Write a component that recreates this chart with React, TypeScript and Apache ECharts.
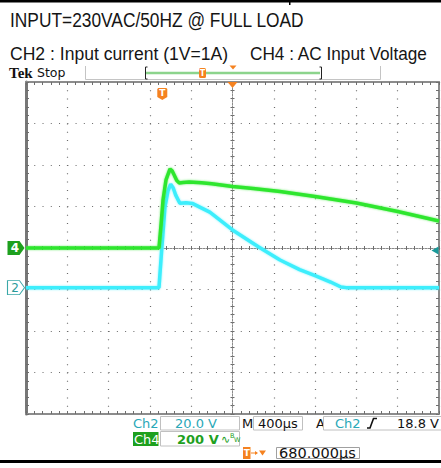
import React, { useEffect, useRef } from "react";
import * as echarts from "echarts";

// Time relative to the screen centre (µs), 400 µs / division
const ch4TimeUs = [-2000, -712, -692, -673, -644, -605, -585, -565, -540, -515, -480, -420, -300, -200, 0, 200, 460, 800, 1200, 1600, 2000];
// CH4 : AC input voltage (V), 200 V / division
const ch4Volts = [0, 0, 111, 231, 328, 381, 372, 352, 325, 313, 316, 318, 314, 310, 296, 287, 272, 248, 217, 176, 130];

const ch2TimeUs = [-2000, -712, -686, -654, -625, -599, -574, -550, -510, -450, -390, -220, 0, 250, 460, 650, 800, 950, 1050, 1100, 2000];
// CH2 : input current probe (V), 20 V / division
const ch2Volts = [0.9, 0.9, 19, 39.8, 47.5, 50.8, 48.9, 45.5, 41.6, 41.8, 41.5, 37.3, 28.7, 20.6, 14.2, 9.6, 6.7, 3.6, 1.2, 0.9, 0.9];

const triggerLevelV = 18.8;
const triggerTimeUs = -680;

const titleLine = "INPUT=230VAC/50HZ @ FULL LOAD";
const ch2Caption = "CH2 : Input current (1V=1A)";
const ch4Caption = "CH4 : AC Input Voltage";
const ch2Scale = "20.0 V";
const ch4Scale = "200 V";
const timeScale = "400µs";
const trigLevelText = "18.8 V";
const horizPosText = "680.000µs";

const GREEN = "#2ee62e";
const CYAN = "#3eeefc";
const TEAL = "#2aa8b8";
const DGREEN = "#1ea01e";
const ORANGE = "#f58220";
const MONO = '"DejaVu Sans", sans-serif';

function zip(a: number[], b: number[]) {
  return a.map((v, i) => [v, b[i]]);
}

export default function App() {
  const ref = useRef<HTMLDivElement>(null);
  useEffect(() => {
    if (!ref.current) return;
    const chart = echarts.init(ref.current, undefined, { renderer: "svg" });

    const tick = { show: true, inside: true, length: 3, lineStyle: { color: "#6e6e6e", width: 1 } };
    const minor = { show: true, splitNumber: 5, length: 3, lineStyle: { color: "#6e6e6e", width: 1 } };
    const noLabel = { show: false };

    const xBase = { type: "value", min: -2000, max: 2000, interval: 400, axisLabel: noLabel, minorSplitLine: { show: false } };
    const yCh4 = { type: "value", min: -800, max: 800, interval: 200, axisLabel: noLabel, minorSplitLine: { show: false } };

    const centreLine = { color: "#8a8a8a", width: 1, type: [1.5, 1.5] };

    const option: any = {
      animation: false,
      backgroundColor: "#ffffff",
      grid: { left: 26, top: 82, width: 413, height: 332, show: false },
      xAxis: [
        {
          ...xBase,
          position: "bottom",
          axisLine: { show: true, onZero: false, lineStyle: { color: "#8c8c8c", width: 2 } },
          axisTick: tick,
          minorTick: minor,
          splitLine: { show: true, lineStyle: { color: "#6a6a6a", width: 1.2, type: [1, 7.3] } },
        },
        {
          ...xBase,
          position: "top",
          axisLine: { show: true, onZero: false, lineStyle: { color: "#8c8c8c", width: 2 } },
          axisTick: tick,
          minorTick: minor,
          splitLine: { show: false },
        },
        {
          ...xBase,
          position: "bottom",
          axisLine: { show: true, onZero: true, onZeroAxisIndex: 0, lineStyle: centreLine },
          axisTick: { ...tick, length: 2 },
          minorTick: { ...minor, length: 2 },
          splitLine: { show: false },
        },
        {
          ...xBase,
          position: "bottom",
          axisLine: { show: true, onZero: true, onZeroAxisIndex: 0, lineStyle: centreLine },
          axisTick: { ...tick, inside: false, length: 2 },
          minorTick: { ...minor, length: 2 },
          splitLine: { show: false },
        },
      ],
      yAxis: [
        {
          ...yCh4,
          position: "left",
          axisLine: { show: true, onZero: false, lineStyle: { color: "#777777", width: 3 } },
          axisTick: tick,
          minorTick: minor,
          splitLine: { show: true, lineStyle: { color: "#6a6a6a", width: 1.2, type: [1, 7.26] } },
        },
        {
          type: "value",
          min: -60,
          max: 100,
          interval: 20,
          position: "right",
          axisLabel: noLabel,
          axisLine: { show: true, onZero: false, lineStyle: { color: "#8c8c8c", width: 2 } },
          axisTick: tick,
          minorTick: minor,
          splitLine: { show: false },
          minorSplitLine: { show: false },
        },
        {
          ...yCh4,
          position: "left",
          axisLine: { show: true, onZero: true, onZeroAxisIndex: 0, lineStyle: centreLine },
          axisTick: { ...tick, length: 2 },
          minorTick: { ...minor, length: 2 },
          splitLine: { show: false },
        },
        {
          ...yCh4,
          position: "left",
          axisLine: { show: true, onZero: true, onZeroAxisIndex: 0, lineStyle: centreLine },
          axisTick: { ...tick, inside: false, length: 2 },
          minorTick: { ...minor, length: 2 },
          splitLine: { show: false },
        },
      ],
      series: [
        {
          type: "line",
          name: "CH2",
          xAxisIndex: 0,
          yAxisIndex: 1,
          data: zip(ch2TimeUs, ch2Volts),
          symbol: "none",
          z: 5,
          lineStyle: { color: CYAN, width: 3.5, shadowColor: "rgba(80,240,255,0.7)", shadowBlur: 2 },
          markPoint: {
            silent: true,
            data: [
              {
                coord: [-2000, ch2Volts[0]],
                symbol: "path://M0,0 L12,0 L17,7 L12,14 L0,14 Z",
                symbolSize: [17, 14],
                symbolOffset: [-10, 0],
                itemStyle: { color: "#ffffff", borderColor: "#3aa8a8", borderWidth: 1 },
                label: { show: true, position: "inside", offset: [-1, 0], formatter: "2", color: "#2a9a9a", fontSize: 12, fontFamily: MONO },
              },
              {
                coord: [2000, triggerLevelV],
                symbol: "path://M0,4 L7,0 L7,8 Z",
                symbolSize: [7, 8],
                symbolOffset: [-4, 0],
                itemStyle: { color: "#1a9a9a" },
                label: { show: false },
              },
            ],
          },
        },
        {
          type: "line",
          name: "CH4",
          xAxisIndex: 0,
          yAxisIndex: 0,
          data: zip(ch4TimeUs, ch4Volts),
          symbol: "none",
          z: 6,
          lineStyle: { color: GREEN, width: 3.5, shadowColor: "rgba(60,230,60,0.7)", shadowBlur: 2 },
          markPoint: {
            silent: true,
            data: [
              {
                coord: [-2000, 0],
                symbol: "path://M0,0 L12,0 L17,7 L12,14 L0,14 Z",
                symbolSize: [17, 14],
                symbolOffset: [-10, 0],
                itemStyle: { color: DGREEN },
                label: { show: true, position: "inside", offset: [-1, 0], formatter: "4", color: "#ffffff", fontWeight: "bold", fontSize: 12, fontFamily: MONO },
              },
              {
                coord: [triggerTimeUs, 800],
                symbol: "path://M1,0 L9,0 L10,1 L10,9 L5,12 L0,9 L0,1 Z",
                symbolSize: [10, 12],
                symbolOffset: [0, 12],
                itemStyle: { color: ORANGE },
                label: { show: true, position: "inside", offset: [0, -1], formatter: "T", color: "#ffffff", fontWeight: "bold", fontSize: 9, fontFamily: MONO },
              },
              {
                coord: [0, 800],
                symbol: "triangle",
                symbolRotate: 180,
                symbolSize: [10, 6],
                symbolOffset: [0, 3],
                itemStyle: { color: ORANGE },
                label: { show: false },
              },
            ],
          },
        },
      ],
      graphic: [
        { type: "rect", shape: { x: 0, y: 0, width: 441, height: 2.5 }, style: { fill: "#000" } },
        { type: "rect", shape: { x: 289, y: 0, width: 1.5, height: 5 }, style: { fill: "#000" } },
        {
          type: "text", x: 10, y: 20.5, scaleX: 0.89,
          style: { text: titleLine, font: '19.5px "Liberation Sans", Arial, sans-serif', fill: "#151515", textVerticalAlign: "middle" },
        },
        {
          type: "text", x: 10, y: 53.5, scaleX: 0.95,
          style: { text: ch2Caption, font: '18.5px "Liberation Sans", Arial, sans-serif', fill: "#151515", textVerticalAlign: "middle" },
        },
        {
          type: "text", x: 250, y: 53.5, scaleX: 0.93,
          style: { text: ch4Caption, font: '18.5px "Liberation Sans", Arial, sans-serif', fill: "#151515", textVerticalAlign: "middle" },
        },
        // Tek Stop header
        { type: "text", x: 9, y: 72.5, style: { text: "Tek", font: 'bold 15px "Liberation Serif", serif', fill: "#111", textVerticalAlign: "middle" } },
        { type: "text", x: 37, y: 72.5, style: { text: "Stop", font: '12.5px ' + MONO, fill: "#111", textVerticalAlign: "middle" } },
        { type: "polyline", shape: { points: [[85.5, 66], [85.5, 79.5], [380.5, 79.5], [380.5, 66]] }, style: { stroke: "#c4c4c4", lineWidth: 1, fill: null } },
        { type: "line", shape: { x1: 146, y1: 73, x2: 320, y2: 73 }, style: { stroke: "#8cd48c", lineWidth: 2.5 } },
        { type: "polyline", shape: { points: [[147.5, 67], [145.5, 67], [145.5, 79], [147.5, 79]] }, style: { stroke: "#222", lineWidth: 1, fill: null } },
        { type: "polyline", shape: { points: [[319.5, 67], [321.5, 67], [321.5, 79], [319.5, 79]] }, style: { stroke: "#222", lineWidth: 1, fill: null } },
        { type: "rect", shape: { x: 199, y: 68, width: 7, height: 10, r: 1.5 }, style: { fill: ORANGE } },
        { type: "text", x: 202.5, y: 73, style: { text: "T", font: "bold 8px " + MONO, fill: "#fff", textAlign: "center", textVerticalAlign: "middle" } },
        { type: "polygon", shape: { points: [[229.5, 65.5], [236.5, 65.5], [233, 69.5]] }, style: { fill: ORANGE } },

        // status row 1
        { type: "text", x: 133, y: 423, style: { text: "Ch2", font: "13px " + MONO, fill: TEAL, textVerticalAlign: "middle" } },
        { type: "rect", shape: { x: 160.5, y: 416.5, width: 79, height: 13.5 }, style: { fill: "#fff", stroke: "#c0c0c0", lineWidth: 1 } },
        { type: "text", x: 175, y: 423, style: { text: ch2Scale, font: "13px " + MONO, fill: TEAL, textVerticalAlign: "middle" } },
        { type: "text", x: 242, y: 423, style: { text: "M", font: "13px " + MONO, fill: "#111", textVerticalAlign: "middle" } },
        { type: "rect", shape: { x: 253.5, y: 416.5, width: 49, height: 13.5 }, style: { fill: "#fff", stroke: "#c0c0c0", lineWidth: 1 } },
        { type: "text", x: 258, y: 423, style: { text: timeScale, font: "13px " + MONO, fill: "#111", textVerticalAlign: "middle" } },
        { type: "text", x: 316, y: 423, style: { text: "A", font: "13px " + MONO, fill: "#111", textVerticalAlign: "middle" } },
        { type: "rect", shape: { x: 323.5, y: 416.5, width: 120, height: 13.5 }, style: { fill: "#fff", stroke: "#c0c0c0", lineWidth: 1 } },
        { type: "text", x: 335, y: 423, style: { text: "Ch2", font: "13px " + MONO, fill: TEAL, textVerticalAlign: "middle" } },
        { type: "polyline", shape: { points: [[367, 428], [370, 428], [373.5, 418.5], [377, 418.5]] }, style: { stroke: "#111", lineWidth: 1.6, fill: null } },
        { type: "text", x: 439, y: 423, style: { text: trigLevelText, font: "13px " + MONO, fill: "#111", textAlign: "right", textVerticalAlign: "middle" } },

        // status row 2
        { type: "rect", shape: { x: 133, y: 432, width: 25.5, height: 14 }, style: { fill: DGREEN } },
        { type: "text", x: 134, y: 439, style: { text: "Ch4", font: "13px " + MONO, fill: "#fff", textVerticalAlign: "middle" } },
        { type: "rect", shape: { x: 160.5, y: 431.5, width: 79, height: 14.5 }, style: { fill: "#fff", stroke: "#c0c0c0", lineWidth: 1 } },
        { type: "text", x: 177, y: 439, style: { text: ch4Scale, font: "bold 13px " + MONO, fill: DGREEN, textVerticalAlign: "middle" } },
        { type: "text", x: 221, y: 439, style: { text: "∿", font: "11px " + MONO, fill: DGREEN, textVerticalAlign: "middle" } },
        { type: "text", x: 230, y: 436, style: { text: "B", font: "6.5px " + MONO, fill: DGREEN, textVerticalAlign: "middle" } },
        { type: "text", x: 234, y: 440, style: { text: "W", font: "6.5px " + MONO, fill: DGREEN, textVerticalAlign: "middle" } },

        // status row 3
        { type: "rect", shape: { x: 243, y: 447, width: 7.5, height: 12 }, style: { fill: ORANGE } },
        { type: "text", x: 246.7, y: 453, style: { text: "T", font: "bold 9px " + MONO, fill: "#fff", textAlign: "center", textVerticalAlign: "middle" } },
        { type: "line", shape: { x1: 251, y1: 453, x2: 257, y2: 453 }, style: { stroke: ORANGE, lineWidth: 1 } },
        { type: "polygon", shape: { points: [[255, 451], [258, 453], [255, 455]] }, style: { fill: ORANGE } },
        { type: "polygon", shape: { points: [[259, 450.5], [266, 450.5], [262.5, 455.5]] }, style: { fill: ORANGE } },
        { type: "rect", shape: { x: 276.5, y: 447.5, width: 83, height: 11 }, style: { fill: "#fff", stroke: "#a0a0a0", lineWidth: 1 } },
        { type: "text", x: 279, y: 453, style: { text: horizPosText, font: "14.5px " + MONO, fill: "#111", textVerticalAlign: "middle" } },

        { type: "rect", shape: { x: 0, y: 460, width: 441, height: 3 }, style: { fill: "#000" } },
      ],
    };

    chart.setOption(option);
    return () => chart.dispose();
  }, []);

  return (
    <div
      ref={ref}
      style={{ position: "fixed", left: 0, top: 0, width: 441, height: 468, background: "#fff" }}
    />
  );
}
